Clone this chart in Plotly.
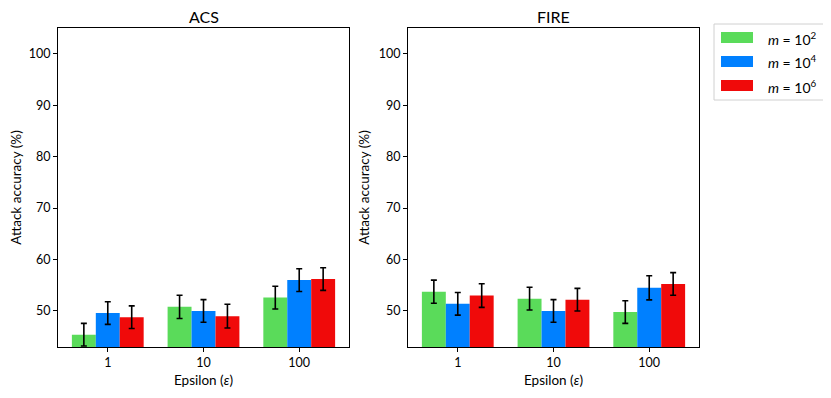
import plotly.graph_objects as go

epsilons = ["1", "10", "100"]
series_names = ["<i>m</i> = 10<sup>2</sup>", "<i>m</i> = 10<sup>4</sup>", "<i>m</i> = 10<sup>6</sup>"]
colors = ["#5ADB5A", "#0080FF", "#F00A0A"]

# attack accuracy (%) per m, per epsilon
acs_vals = [[45.4, 50.8, 52.6], [49.6, 50.0, 56.0], [48.8, 49.0, 56.2]]
acs_errs = [[2.2, 2.25, 2.2], [2.2, 2.2, 2.2], [2.2, 2.3, 2.2]]
fire_vals = [[53.75, 52.4, 49.8], [51.4, 50.0, 54.5], [53.0, 52.2, 55.25]]
fire_errs = [[2.25, 2.2, 2.2], [2.2, 2.2, 2.35], [2.3, 2.2, 2.2]]

FONT = "Lato"
# page body has an 8px margin, so the figure is made smaller and shifted
OFF = 8
W, H = 831 - 2 * OFF, 398 - 2 * OFF

fig = go.Figure()
offsets = [-0.25, 0.0, 0.25]
for panel, (vals, errs) in enumerate([(acs_vals, acs_errs), (fire_vals, fire_errs)]):
    xa = "x" if panel == 0 else "x2"
    ya = "y" if panel == 0 else "y2"
    for i in range(3):
        fig.add_trace(go.Bar(
            x=[k + offsets[i] for k in range(len(epsilons))],
            y=vals[i],
            width=0.25,
            marker=dict(color=colors[i], line=dict(width=0)),
            error_y=dict(type="data", array=errs[i], color="black", thickness=1.6, width=3),
            xaxis=xa, yaxis=ya, showlegend=False,
        ))


def px_x(p):
    return (p - OFF) / W


def px_y(p):
    return 1 - (p - OFF) / H


axis_common = dict(
    showline=True, linecolor="black", linewidth=1, mirror=True,
    ticks="outside", ticklen=4, tickcolor="black", showgrid=False, zeroline=False,
    tickfont=dict(family=FONT, size=12.5, color="black"),
)
xcommon = dict(axis_common, range=[-0.52, 2.52], tickvals=[0, 1, 2], ticktext=epsilons,
               title=dict(text="Epsilon (<i>ε</i>)", font=dict(family=FONT, size=13.5, color="black"), standoff=6))
ycommon = dict(axis_common, range=[43, 105], tickvals=[50, 60, 70, 80, 90, 100],
               title=dict(text="Attack accuracy (%)", font=dict(family=FONT, size=13.5, color="black"), standoff=6))

fig.update_layout(
    width=W, height=H,
    margin=dict(l=0, r=0, t=0, b=0),
    paper_bgcolor="white", plot_bgcolor="white",
    barmode="overlay",
    xaxis=dict(xcommon, domain=[px_x(58), px_x(349)], anchor="y"),
    yaxis=dict(ycommon, domain=[px_y(347), px_y(28)], anchor="x"),
    xaxis2=dict(xcommon, domain=[px_x(408), px_x(699)], anchor="y2"),
    yaxis2=dict(ycommon, domain=[px_y(347), px_y(28)], anchor="x2"),
    font=dict(family=FONT, color="black"),
)

for title, cx in [("ACS", (58 + 349) / 2), ("FIRE", (408 + 699) / 2)]:
    fig.add_annotation(text=title, x=px_x(cx), y=px_y(16), xref="paper", yref="paper",
                       xanchor="center", yanchor="middle", showarrow=False,
                       font=dict(family=FONT, size=16, color="black"))

# legend drawn as matplotlib-style patches
fig.add_shape(type="rect", xref="paper", yref="paper",
              x0=px_x(714), x1=px_x(828), y0=px_y(100), y1=px_y(24),
              line=dict(color="#d0d0d0", width=1), fillcolor="white")
for i, name in enumerate(series_names):
    yc = 38 + i * 24
    fig.add_shape(type="rect", xref="paper", yref="paper",
                  x0=px_x(721), x1=px_x(753), y0=px_y(yc + 5), y1=px_y(yc - 6),
                  line=dict(width=0), fillcolor=colors[i])
    fig.add_annotation(text=name, x=px_x(766), y=px_y(yc), xref="paper", yref="paper",
                       xanchor="left", yanchor="middle", showarrow=False,
                       font=dict(family=FONT, size=14, color="black"))

fig.write_html("out.html")
